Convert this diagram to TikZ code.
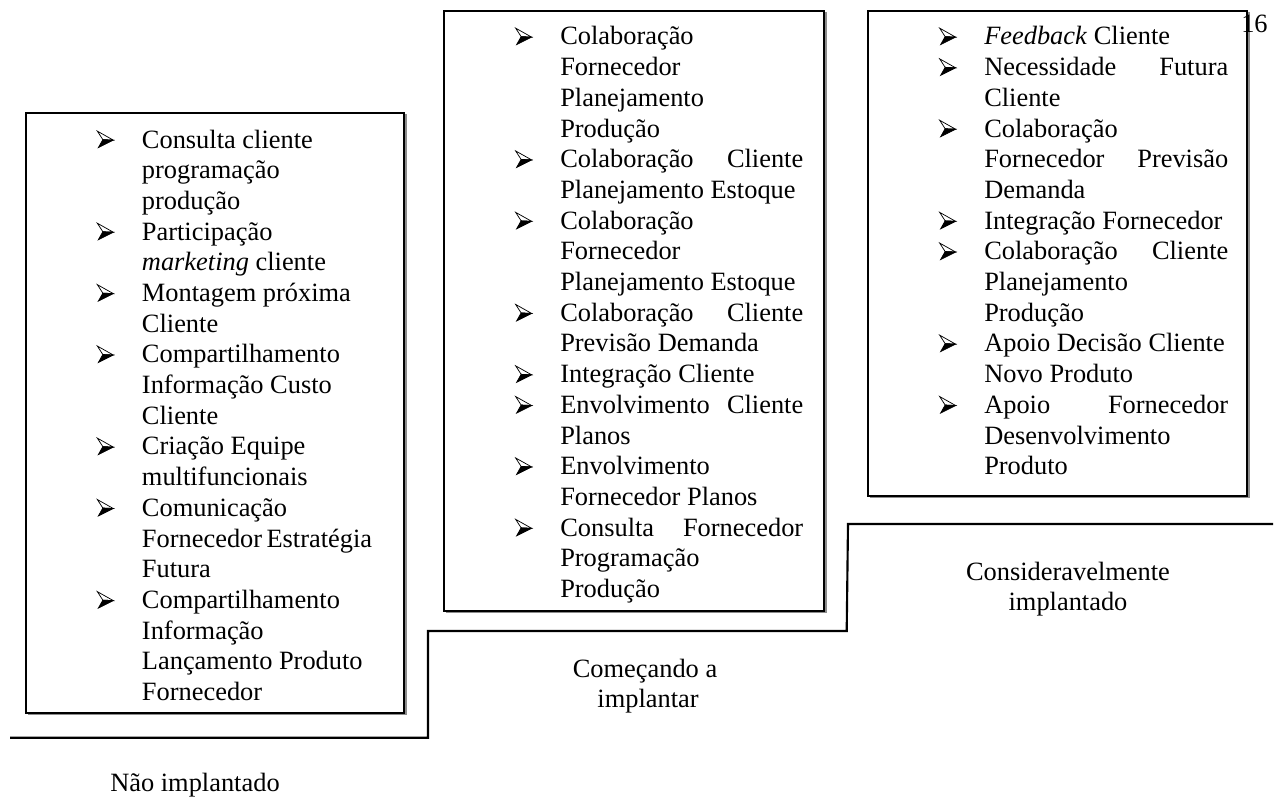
\documentclass[tikz,border=0pt]{standalone}
\usepackage{fontspec}
\setmainfont{Liberation Serif}
\newdimen\px \px=0.75pt
\newdimen\colw
\newsavebox\bulbox
\newcommand\bul{\usebox\bulbox}
\newcommand\Li[1]{\hbox to \colw{#1\hfil}}
\newcommand\LiJ[2]{\hbox to \colw{#1\hfil #2}}
\newcommand\It[1]{\hbox to \colw{\llap{\hbox to 45\px{\bul\hfil}}#1\hfil}}
\newcommand\ItJ[2]{\hbox to \colw{\llap{\hbox to 45\px{\bul\hfil}}#1\hfil #2}}
\newcommand\bpt[2]{\pgfpoint{#1\px}{#2\px}}
\tikzset{
  txt/.style={inner sep=0pt, font=\fontsize{19.8pt}{22.8pt}\selectfont},
  frame/.style={draw=black, line width=1.6pt},
  shadowline/.style={draw=black!45, line width=1.2pt},
  stair/.style={draw=black, line width=1.6pt},
}
\begin{document}
\sbox\bulbox{\begin{pgfpicture}
  \pgfsetlinewidth{0.55pt}\pgfsetmiterjoin
  \pgfpathmoveto{\bpt{0}{16.5}}\pgfpathlineto{\bpt{16}{7.5}}\pgfpathlineto{\bpt{5.5}{8}}\pgfpathclose
  \pgfusepath{stroke}
  \pgfpathmoveto{\bpt{5.5}{8}}\pgfpathlineto{\bpt{16}{7.5}}\pgfpathlineto{\bpt{1}{0}}\pgfpathclose
  \pgfusepath{fill,stroke}
\end{pgfpicture}}
\begin{tikzpicture}[x=0.75pt,y=-0.75pt]
\useasboundingbox (0,0) rectangle (1286,799);
% shadows
\draw[shadowline] (406,114.5) -- (406,714.5) -- (28,714.5);
\draw[shadowline] (826,12.5) -- (826,612.5) -- (446,612.5);
\draw[shadowline] (1249,12.5) -- (1249,497.5) -- (870,497.5);
% page number
\node[txt, anchor=base west] (pg) at (1241,33) {16};
% boxes
\draw[frame] (26,112.7) rectangle (404.3,712.7);
\draw[frame] (444,10.7) rectangle (824.3,610.7);
\draw[frame] (868.3,10.7) rectangle (1247.3,495.7);
% staircase
\draw[stair] (10,737.7) -- (428,737.7) -- (428,631) -- (846.7,631) -- (848,524) -- (1273,524);
% left column
\node[txt, anchor=base west] (L) at (141.7,148) {\colw=230\px\vtop{\baselineskip=30.7\px
  \It{Consulta cliente}
  \Li{programação}
  \Li{produção}
  \It{Participação}
  \Li{\textit{marketing} cliente}
  \It{Montagem próxima}
  \Li{Cliente}
  \It{Compartilhamento}
  \Li{Informação Custo}
  \Li{Cliente}
  \It{Criação Equipe}
  \Li{multifuncionais}
  \It{Comunicação}
  \Li{Fornecedor Estratégia}
  \Li{Futura}
  \It{Compartilhamento}
  \Li{Informação}
  \Li{Lançamento Produto}
  \Li{Fornecedor}}};
% middle column
\node[txt, anchor=base west] (M) at (560,45) {\colw=243\px\vtop{\baselineskip=30.7\px
  \It{Colaboração}
  \Li{Fornecedor}
  \Li{Planejamento}
  \Li{Produção}
  \ItJ{Colaboração}{Cliente}
  \Li{Planejamento Estoque}
  \It{Colaboração}
  \Li{Fornecedor}
  \Li{Planejamento Estoque}
  \ItJ{Colaboração}{Cliente}
  \Li{Previsão Demanda}
  \It{Integração Cliente}
  \ItJ{Envolvimento}{Cliente}
  \Li{Planos}
  \It{Envolvimento}
  \Li{Fornecedor Planos}
  \ItJ{Consulta}{Fornecedor}
  \Li{Programação}
  \Li{Produção}}};
% right column
\node[txt, anchor=base west] (R) at (984,45) {\colw=244\px\vtop{\baselineskip=30.7\px
  \It{\textit{Feedback} Cliente}
  \ItJ{Necessidade}{Futura}
  \Li{Cliente}
  \It{Colaboração}
  \LiJ{Fornecedor}{Previsão}
  \Li{Demanda}
  \It{Integração Fornecedor}
  \ItJ{Colaboração}{Cliente}
  \Li{Planejamento}
  \Li{Produção}
  \It{Apoio Decisão Cliente}
  \Li{Novo Produto}
  \ItJ{Apoio}{Fornecedor}
  \Li{Desenvolvimento}
  \Li{Produto}}};
% stage labels
\node[txt, anchor=base] (s1) at (195,791) {Não implantado};
\node[txt, anchor=base] (s2a) at (645,677) {Começando a};
\node[txt, anchor=base] (s2b) at (648,707.5) {implantar};
\node[txt, anchor=base] (s3a) at (1068,580) {Consideravelmente};
\node[txt, anchor=base] (s3b) at (1068,610) {implantado};
\end{tikzpicture}
\end{document}
